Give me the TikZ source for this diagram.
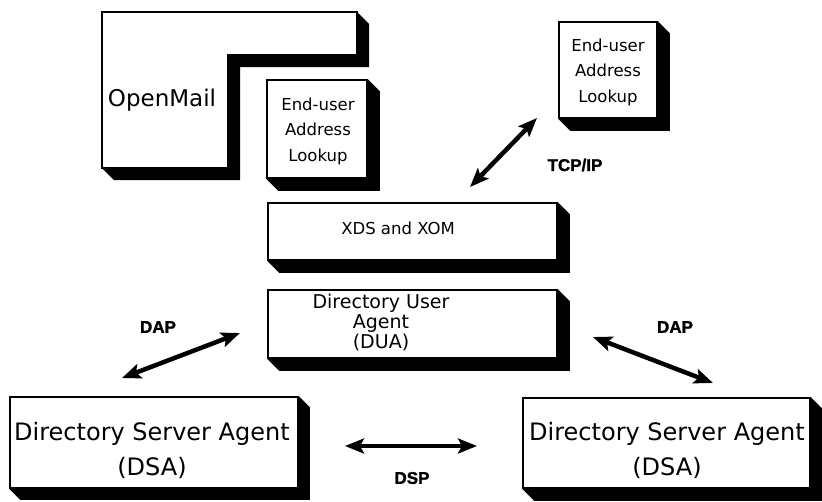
\documentclass[tikz,border=0pt]{standalone}
\usepackage{fontspec}
\setmainfont{DejaVu Sans}
\newfontfamily\lblfont[BoldFeatures={FakeBold=1.5}]{Liberation Sans}
\usetikzlibrary{arrows.meta}
\newcommand\boxshadow[2]{\fill[black] (#1.north east) -- ++(#2,#2) -- ([shift={(#2,#2)}]#1.south east) -- ([shift={(#2,#2)}]#1.south west) -- (#1.south west) -- (#1.south east) -- cycle;}
\begin{document}
\begin{tikzpicture}[x=1pt,y=-1pt,line join=miter,
  box/.style={draw,line width=1.6pt,fill=white,inner sep=0pt,align=center},
  txt/.style={inner sep=0pt,align=center},
  lbl/.style={font=\lblfont\bfseries\fontsize{17}{18}\selectfont},
  dbl/.style={line width=4.5pt,{Stealth[length=19pt,width=15pt,inset=4pt]}-{Stealth[length=19pt,width=15pt,inset=4pt]}}]
\useasboundingbox (0,0) rectangle (822,501);
% OpenMail L-shape
\fill[black] (357,12) -- (369,24) -- (369,67) -- (240,67) -- (240,180) -- (114,180) -- (102,168) -- (228,168) -- (228,55) -- (357,55) -- cycle;
\draw[line width=1.6pt,fill=white] (102,12) -- (357,12) -- (357,55) -- (228,55) -- (228,168) -- (102,168) -- cycle;
\node[font=\fontsize{23}{26}\selectfont] (om) at (162,100) {OpenMail};
% End-user boxes
\node[box,minimum width=100pt,minimum height=98pt,font=\fontsize{16.5}{25.5}\selectfont] (eu1) at (317,129) {};
\node[txt,font=\fontsize{16.5}{25.5}\selectfont] (eu1t) at (318,131) {End-user\\Address\\Lookup};
\boxshadow{eu1}{12}
\node[box,minimum width=98pt,minimum height=96pt] (eu2) at (608,70) {};
\node[txt,font=\fontsize{16.5}{25.5}\selectfont] (eu2t) at (608,72) {End-user\\Address\\Lookup};
\boxshadow{eu2}{12}
% XDS
\node[box,minimum width=289pt,minimum height=57pt] (xds) at (412.5,231.5) {};
\node[txt,font=\fontsize{16.5}{20}\selectfont] (xdst) at (398,228) {XDS and XOM};
\boxshadow{xds}{12}
% DUA
\node[box,minimum width=289pt,minimum height=68pt] (dua) at (412.5,324) {};
\node[txt,font=\fontsize{19}{20}\selectfont] (duat) at (381,323) {Directory User\\Agent\\(DUA)};
\boxshadow{dua}{12}
% DSAs
\node[box,minimum width=288pt,minimum height=91pt] (dsa1) at (154,442.5) {};
\node[txt,font=\fontsize{24}{35}\selectfont] (dsa1t) at (152,450) {Directory Server Agent\\(DSA)};
\boxshadow{dsa1}{11}
\node[box,minimum width=287pt,minimum height=90pt] (dsa2) at (666.5,443) {};
\node[txt,font=\fontsize{24}{35}\selectfont] (dsa2t) at (667,450) {Directory Server Agent\\(DSA)};
\boxshadow{dsa2}{12}
% arrow end points
\coordinate (t1) at (470,187);
\coordinate (t2) at (537,118);
\coordinate (l1) at (122,378);
\coordinate (l2) at (240,333);
\coordinate (r1) at (593,337);
\coordinate (r2) at (713,383);
\coordinate (s1) at (345,446);
\coordinate (s2) at (477,446);
\draw[dbl] (t1) -- (t2);
\draw[dbl] (l1) -- (l2);
\draw[dbl] (r1) -- (r2);
\draw[dbl] (s1) -- (s2);
% labels
\node[lbl] (tcp) at (575,165) {TCP/IP};
\node[lbl] (dapl) at (158,327) {DAP};
\node[lbl] (dapr) at (675,327) {DAP};
\node[lbl] (dsp) at (412,478) {DSP};
\end{tikzpicture}
\end{document}
